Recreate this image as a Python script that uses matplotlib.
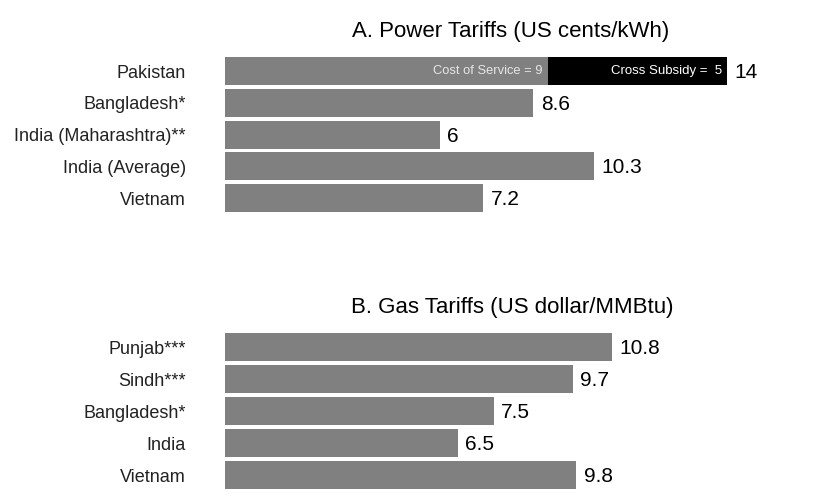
import matplotlib.pyplot as plt

plt.rcParams['font.family'] = ['Liberation Sans', 'DejaVu Sans']

power_labels = ['Pakistan', 'Bangladesh*', 'India (Maharashtra)**', 'India (Average)', 'Vietnam']
power_values = [14, 8.6, 6, 10.3, 7.2]
pak_cost = 9
pak_subsidy = 5

gas_labels = ['Punjab***', 'Sindh***', 'Bangladesh*', 'India', 'Vietnam']
gas_values = [10.8, 9.7, 7.5, 6.5, 9.8]

gray = '#808080'

fig = plt.figure(figsize=(8.4, 5), dpi=100)

ax1 = fig.add_axes([225/840, 0.572, 538/840, 0.3175])
ax2 = fig.add_axes([225/840, 0.018, 538/840, 0.32])


def style(ax, labels):
    ax.set_xlim(0, 15)
    ax.set_ylim(len(labels) - 0.5, -0.5)
    ax.set_yticks(range(len(labels)))
    ax.set_yticklabels(labels, fontsize=13, color='#222222')
    ax.tick_params(axis='y', length=0, pad=28)
    ax.set_xticks([])
    for s in ax.spines.values():
        s.set_visible(False)


# power panel
ys = list(range(len(power_labels)))
ax1.barh(ys[1:], power_values[1:], height=0.88, color=gray)
ax1.barh(0, pak_cost, height=0.88, color=gray)
ax1.barh(0, pak_subsidy, left=pak_cost, height=0.88, color='black')
ax1.text(pak_cost - 0.15, 0, 'Cost of Service = %d' % pak_cost, ha='right', va='center',
         fontsize=9.3, color='#e6e6e6')
ax1.text(pak_cost + pak_subsidy - 0.15, 0, 'Cross Subsidy =  %d' % pak_subsidy, ha='right',
         va='center', fontsize=9.5, color='white')
for y, v in zip(ys, power_values):
    ax1.text(v + 0.2, y + 0.05, '%g' % v, ha='left', va='center', fontsize=15)
style(ax1, power_labels)
fig.text(511/840, 1 - 32/500, 'A. Power Tariffs (US cents/kWh)', ha='center', va='center',
         fontsize=16)

# gas panel
ys = list(range(len(gas_labels)))
ax2.barh(ys, gas_values, height=0.88, color=gray)
for y, v in zip(ys, gas_values):
    ax2.text(v + 0.2, y + 0.05, '%g' % v, ha='left', va='center', fontsize=15)
style(ax2, gas_labels)
fig.text(512/840, 1 - 308/500, 'B. Gas Tariffs (US dollar/MMBtu)', ha='center', va='center',
         fontsize=16)

fig.savefig('out.png', dpi=100)
